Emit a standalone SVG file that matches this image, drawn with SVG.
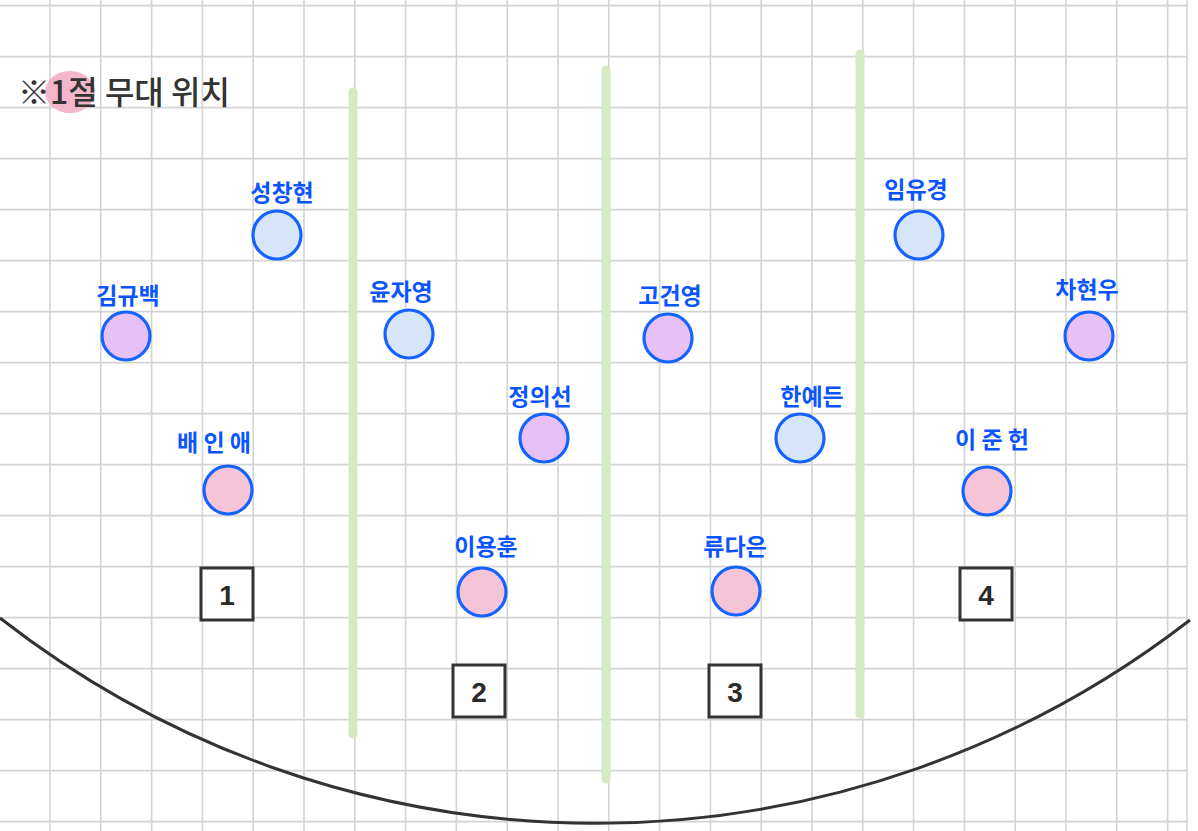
<svg xmlns="http://www.w3.org/2000/svg" width="1198" height="831" viewBox="0 0 1198 831">
<style>
.grid line{stroke:#d3d3d3;stroke-width:1.6}
.bar{stroke:#d5eac3;stroke-width:9;stroke-linecap:round}
.dot{stroke:#1463ff;stroke-width:3.2}
.blue{fill:#d7e5fb}
.lav{fill:#e7c1f6}
.pink{fill:#f5c5d7}
.lbl{font-family:"Noto Sans CJK KR","Noto Sans",sans-serif;font-weight:700;font-size:23px;fill:#0a55ff;text-anchor:middle}
.box rect{fill:#fff;stroke:#333;stroke-width:3}
.box text{font-family:"Liberation Sans",sans-serif;font-size:28px;font-weight:700;fill:#2a2a2a;text-anchor:middle}
</style>
<rect width="1198" height="831" fill="#fff"/>
<g class="grid">
<line x1="50" y1="0" x2="50" y2="831"/><line x1="100.8" y1="0" x2="100.8" y2="831"/><line x1="151.6" y1="0" x2="151.6" y2="831"/><line x1="202.4" y1="0" x2="202.4" y2="831"/><line x1="253.2" y1="0" x2="253.2" y2="831"/><line x1="304" y1="0" x2="304" y2="831"/><line x1="354.8" y1="0" x2="354.8" y2="831"/><line x1="405.6" y1="0" x2="405.6" y2="831"/><line x1="456.4" y1="0" x2="456.4" y2="831"/><line x1="507.2" y1="0" x2="507.2" y2="831"/><line x1="558" y1="0" x2="558" y2="831"/><line x1="608.8" y1="0" x2="608.8" y2="831"/><line x1="659.6" y1="0" x2="659.6" y2="831"/><line x1="710.4" y1="0" x2="710.4" y2="831"/><line x1="761.2" y1="0" x2="761.2" y2="831"/><line x1="812" y1="0" x2="812" y2="831"/><line x1="862.8" y1="0" x2="862.8" y2="831"/><line x1="913.6" y1="0" x2="913.6" y2="831"/><line x1="964.4" y1="0" x2="964.4" y2="831"/><line x1="1015.2" y1="0" x2="1015.2" y2="831"/><line x1="1066" y1="0" x2="1066" y2="831"/><line x1="1116.8" y1="0" x2="1116.8" y2="831"/><line x1="1167.6" y1="0" x2="1167.6" y2="831"/><line x1="1187" y1="0" x2="1187" y2="831"/>
<line x1="0" y1="5.6" x2="1187" y2="5.6"/><line x1="0" y1="56.6" x2="1187" y2="56.6"/><line x1="0" y1="107.6" x2="1187" y2="107.6"/><line x1="0" y1="158.6" x2="1187" y2="158.6"/><line x1="0" y1="209.6" x2="1187" y2="209.6"/><line x1="0" y1="260.6" x2="1187" y2="260.6"/><line x1="0" y1="311.6" x2="1187" y2="311.6"/><line x1="0" y1="362.6" x2="1187" y2="362.6"/><line x1="0" y1="413.6" x2="1187" y2="413.6"/><line x1="0" y1="464.6" x2="1187" y2="464.6"/><line x1="0" y1="515.6" x2="1187" y2="515.6"/><line x1="0" y1="566.6" x2="1187" y2="566.6"/><line x1="0" y1="617.6" x2="1187" y2="617.6"/><line x1="0" y1="668.6" x2="1187" y2="668.6"/><line x1="0" y1="719.6" x2="1187" y2="719.6"/><line x1="0" y1="770.6" x2="1187" y2="770.6"/><line x1="0" y1="821.6" x2="1187" y2="821.6"/>
</g>
<g id="dividers">
<line class="bar" x1="353" y1="92" x2="353" y2="734"/>
<line class="bar" x1="606" y1="70" x2="606" y2="779"/>
<line class="bar" x1="860" y1="54" x2="860" y2="714"/>
</g>
<g id="title">
<ellipse cx="70" cy="92" rx="25" ry="21" fill="#f4b6cb"/>
<text x="18" y="104" font-family="Noto Sans CJK KR,sans-serif" font-size="32" font-weight="500" fill="#333">※1절 무대 위치</text>
</g>
<g id="stage">
<path d="M0 618 A969 969 0 0 0 1190 620" fill="none" stroke="#333" stroke-width="3"/>
</g>
<g id="box1" class="box"><rect x="201" y="568" width="52" height="52"/><text x="227" y="605">1</text></g>
<g id="box2" class="box"><rect x="453" y="665" width="52" height="52"/><text x="479" y="702">2</text></g>
<g id="box3" class="box"><rect x="709" y="665" width="52" height="52"/><text x="735" y="702">3</text></g>
<g id="box4" class="box"><rect x="960" y="568" width="52" height="52"/><text x="986" y="605">4</text></g>
<g id="n1"><circle class="dot blue" cx="277" cy="235" r="24"/><text class="lbl" x="282" y="201">성창현</text></g>
<g id="n2"><circle class="dot lav" cx="126" cy="336" r="24"/><text class="lbl" x="128" y="304">김규백</text></g>
<g id="n3"><circle class="dot blue" cx="409" cy="334" r="24"/><text class="lbl" x="401" y="300">윤자영</text></g>
<g id="n4"><circle class="dot lav" cx="544" cy="438" r="24"/><text class="lbl" x="540" y="405">정의선</text></g>
<g id="n5"><circle class="dot pink" cx="228" cy="490" r="24"/><text class="lbl" x="214" y="451">배 인 애</text></g>
<g id="n6"><circle class="dot pink" cx="482" cy="592" r="24"/><text class="lbl" x="486" y="555">이용훈</text></g>
<g id="n7"><circle class="dot lav" cx="668" cy="338" r="24"/><text class="lbl" x="670" y="304">고건영</text></g>
<g id="n8"><circle class="dot blue" cx="800" cy="438" r="24"/><text class="lbl" x="812" y="405">한예든</text></g>
<g id="n9"><circle class="dot pink" cx="736" cy="591" r="24"/><text class="lbl" x="735" y="555">류다은</text></g>
<g id="n10"><circle class="dot blue" cx="919" cy="235" r="24"/><text class="lbl" x="916" y="198">임유경</text></g>
<g id="n11"><circle class="dot lav" cx="1089" cy="336" r="24"/><text class="lbl" x="1087" y="298">차현우</text></g>
<g id="n12"><circle class="dot pink" cx="987" cy="491" r="24"/><text class="lbl" x="992" y="448">이 준 헌</text></g>
</svg>
